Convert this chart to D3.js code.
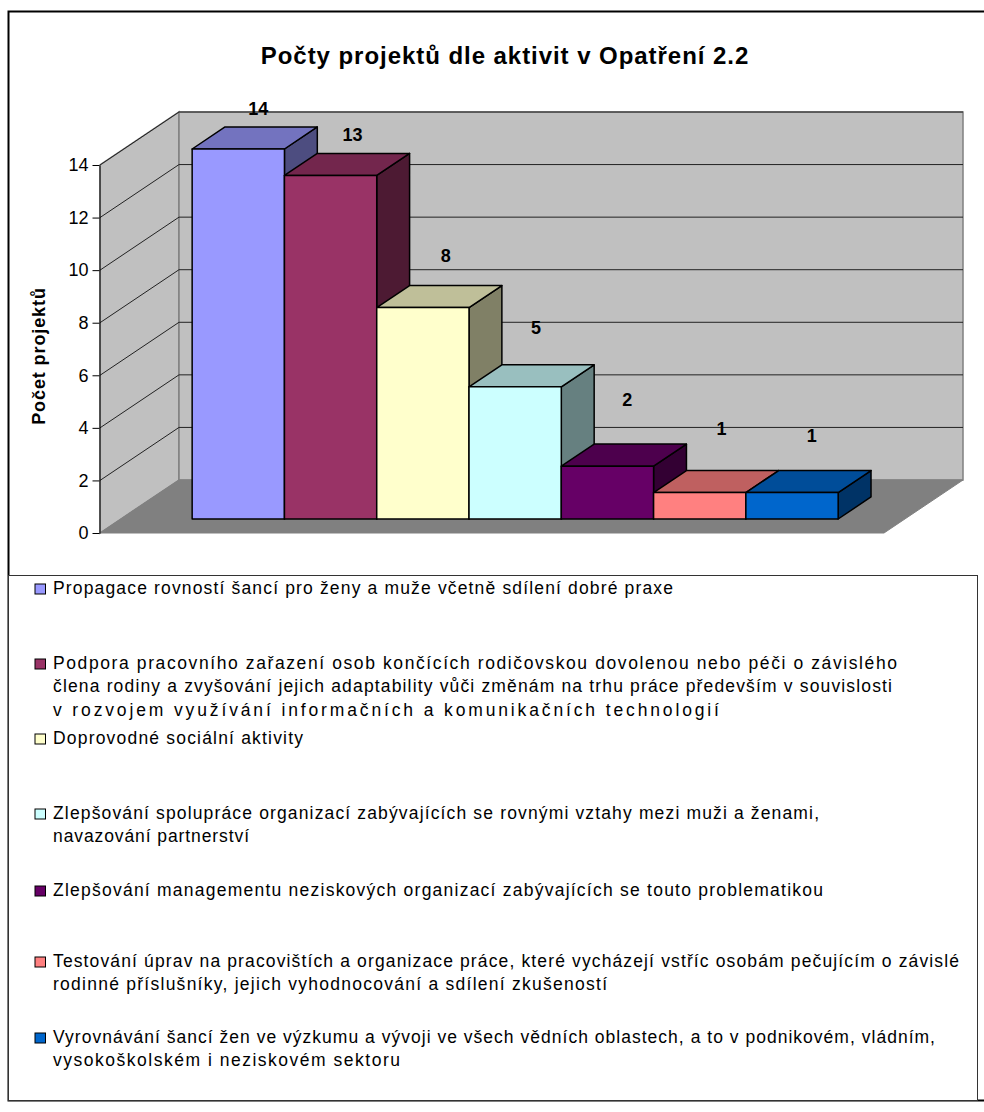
<!DOCTYPE html>
<html>
  <head>
    <meta charset="utf-8">
    <script src="https://cdn.jsdelivr.net/npm/d3@7/dist/d3.min.js" charset="utf-8"></script>
    <style>
      body { margin: 0; background: #fff; }
      svg { display: block; }
      text { font-family: "Liberation Sans", Arial, sans-serif; fill: #000; }
    </style>
  </head>
  <body>
    <script type="text/javascript">
      var chartTitle = "Počty projektů dle aktivit v Opatření 2.2";
      var axisTitle = "Počet projektů";
      var values = [14, 13, 8, 5, 2, 1, 1];
      var colors = ["#9999FF", "#993366", "#FFFFCC", "#CCFFFF", "#660066", "#FF8080", "#0066CC"];
      var yTicks = [0, 2, 4, 6, 8, 10, 12, 14];
      var legendLines = [
        ["Propagace rovností šancí pro ženy a muže včetně sdílení dobré praxe"],
        ["Podpora pracovního zařazení osob končících rodičovskou dovolenou nebo péči o závislého",
         "člena rodiny a zvyšování jejich adaptability vůči změnám na trhu práce především v souvislosti",
         "v rozvojem využívání informačních a komunikačních technologií"],
        ["Doprovodné sociální aktivity"],
        ["Zlepšování spolupráce organizací zabývajících se rovnými vztahy mezi muži a ženami,",
         "navazování partnerství"],
        ["Zlepšování managementu neziskových organizací zabývajících se touto problematikou"],
        ["Testování úprav na pracovištích a organizace práce, které vycházejí vstříc osobám pečujícím o závislé",
         "rodinné příslušníky, jejich vyhodnocování a sdílení zkušeností"],
        ["Vyrovnávání šancí žen ve výzkumu a vývoji ve všech vědních oblastech, a to v podnikovém, vládním,",
         "vysokoškolském i neziskovém sektoru"]
      ];

      var w = 984, h = 1112;
      var svg = d3.select("body").append("svg").attr("width", w).attr("height", h);

      // Hloubka 3D: z=0 predni hrana podlahy, z=1 zadni stena
      var depthX = 79, depthY = 53;
      var y = d3.scaleLinear().domain([0, 14]).range([533, 165]);
      var yBar = d3.scaleLinear().domain([0, 14]).range([519, 149]);
      var x = d3.scaleBand().domain(d3.range(values.length)).range([171.3, 817.3]);
      var barZ0 = 0.264, barZ1 = 0.68;
      var wallX0 = 100, wallX1 = 884;

      function pt(px, v, z) { return [px + depthX * z, y(v) - depthY * z]; }
      function barPt(px, v, z) { return [px + depthX * z, yBar(v) - depthY * (z - barZ0)]; }
      function poly(points) { return "M" + points.map(function(p){ return p.join(","); }).join("L") + "Z"; }
      function shade(c, k) {
        var r = d3.rgb(c);
        return d3.rgb(r.r * k, r.g * k, r.b * k).formatHex();
      }

      // Ramecek grafu
      svg.append("path").attr("d", "M984,11.5H8.5V1100.5H984")
         .attr("fill", "none").attr("stroke", "#000").attr("stroke-width", 2);

      // Steny a podlaha
      var walls = svg.append("g");
      walls.append("path")
           .attr("d", poly([pt(wallX0, 0, 0), pt(wallX0, 14, 0), pt(wallX0, 14, 1), pt(wallX0, 0, 1)]))
           .attr("fill", "#C0C0C0").attr("stroke", "#808080").attr("stroke-width", 1.5);
      walls.append("path")
           .attr("d", poly([pt(wallX0, 0, 1), pt(wallX0, 14, 1), pt(wallX1, 14, 1), pt(wallX1, 0, 1)]))
           .attr("fill", "#C0C0C0").attr("stroke", "#808080").attr("stroke-width", 1.5);
      walls.append("path")
           .attr("d", poly([pt(wallX0, 0, 0), pt(wallX1, 0, 0), pt(wallX1, 0, 1), pt(wallX0, 0, 1)]))
           .attr("fill", "#808080").attr("stroke", "#808080");

      // Mrizka
      var grid = svg.append("g").attr("fill", "none").attr("stroke", "#222").attr("stroke-width", 1);
      grid.selectAll("path.grid")
          .data(yTicks.slice(1))
          .enter()
          .append("path")
            .attr("class", "grid")
            .attr("d", function(d){
              var a = pt(wallX0, d, 0), b = pt(wallX0, d, 1), c = pt(wallX1, d, 1);
              return "M" + a + "L" + b + "L" + c;
            });

      // Osa Y
      var yAxis = svg.append("g")
         .attr("transform", "translate(" + (wallX0 - 0.5) + ",0)")
         .call(d3.axisLeft(y).tickValues(yTicks).tickSize(7).tickSizeOuter(0).tickPadding(4));
      yAxis.selectAll("text").attr("font-size", 18).style("font-family", '"Liberation Sans", Arial, sans-serif');
      yAxis.selectAll("line").attr("stroke", "#000");
      yAxis.select(".domain").attr("stroke", "#000");

      // Sloupce
      var bars = svg.selectAll("g.bar")
         .data(values)
         .enter()
         .append("g")
           .attr("class", "bar")
           .attr("stroke", "#000")
           .attr("stroke-width", 1.5)
           .attr("stroke-linejoin", "round");

      bars.append("path")
          .attr("fill", function(d, i){ return shade(colors[i], 0.5); })
          .attr("d", function(d, i){
            var r = x(i) + x.bandwidth();
            return poly([barPt(r, 0, barZ0), barPt(r, d, barZ0), barPt(r, d, barZ1), barPt(r, 0, barZ1)]);
          });
      bars.append("path")
          .attr("fill", function(d, i){ return shade(colors[i], 0.75); })
          .attr("d", function(d, i){
            var l = x(i), r = l + x.bandwidth();
            return poly([barPt(l, d, barZ0), barPt(r, d, barZ0), barPt(r, d, barZ1), barPt(l, d, barZ1)]);
          });
      bars.append("path")
          .attr("fill", function(d, i){ return colors[i]; })
          .attr("d", function(d, i){
            var l = x(i), r = l + x.bandwidth();
            return poly([barPt(l, 0, barZ0), barPt(l, d, barZ0), barPt(r, d, barZ0), barPt(r, 0, barZ0)]);
          });

      // Popisky hodnot: posun vuci horni zadni hrane sloupce
      var labelDx = [-13, -11, -10, -12, -13, -11, -13];
      var labelDy = [-12, -12, -24, -31, -38, -36, -29];
      svg.selectAll("text.value")
         .data(values)
         .enter()
         .append("text")
           .attr("class", "value")
           .text(function(d){ return d; })
           .attr("text-anchor", "middle")
           .attr("font-weight", "bold")
           .attr("font-size", 18)
           .attr("x", function(d, i){
             return barPt(x(i) + x.bandwidth() / 2, d, barZ1)[0] + labelDx[i];
           })
           .attr("y", function(d, i){
             return barPt(x(i), d, barZ1)[1] + labelDy[i];
           });

      // Titulky
      svg.append("text").text(chartTitle)
         .attr("x", 505).attr("y", 64)
         .attr("text-anchor", "middle")
         .attr("font-weight", "bold").attr("font-size", 24).attr("letter-spacing", 0.95);
      svg.append("text").text(axisTitle)
         .attr("transform", "translate(45,356) rotate(-90)")
         .attr("text-anchor", "middle")
         .attr("font-weight", "bold").attr("font-size", 18).attr("letter-spacing", 0.9);

      // Legenda
      svg.append("rect")
         .attr("x", 8.5).attr("y", 575.5).attr("width", 969).attr("height", 525)
         .attr("fill", "#fff").attr("stroke", "#333").attr("stroke-width", 1);

      // Rozlozeni legendy: stredy polozek a pravy konec kazdeho radku
      var legendTop = [588, 663, 738, 813, 890, 961, 1037];
      var lineEnds = [[673], [897, 892, 719], [303], [819, 249], [823], [959, 607], [935, 400]];
      var lineStep = 23.3;
      var textX = 53;
      var items = svg.selectAll("g.legend")
         .data(legendLines)
         .enter()
         .append("g")
           .attr("class", "legend")
           .attr("transform", function(d, i){ return "translate(0," + legendTop[i] + ")"; });
      items.append("rect")
           .attr("x", 35).attr("y", -4).attr("width", 10.5).attr("height", 10)
           .attr("fill", function(d, i){ return colors[i]; })
           .attr("stroke", "#000").attr("stroke-width", 1);
      items.each(function(lines, i){
        d3.select(this).selectAll("text")
          .data(lines)
          .enter()
          .append("text")
            .text(function(d){ return d; })
            .attr("x", textX)
            .attr("y", function(d, j){ return j * lineStep + 6; })
            .attr("font-size", 17.5)
            .attr("textLength", function(d, j){ return lineEnds[i][j] - textX; })
            .attr("lengthAdjust", "spacing");
      });
    </script>
  </body>
</html>
